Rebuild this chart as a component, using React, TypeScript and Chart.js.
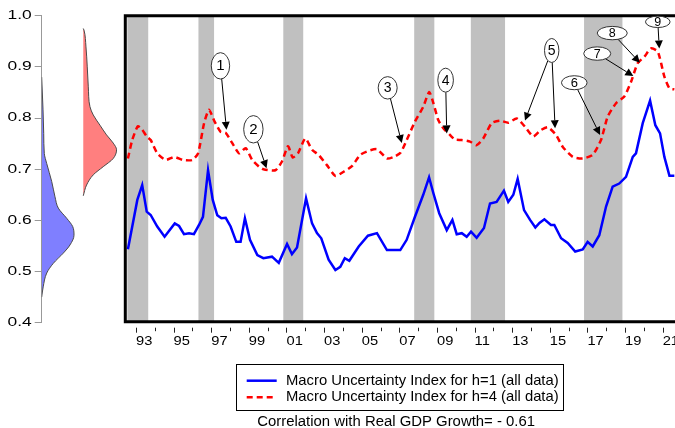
import React, { useEffect, useRef } from "react";
import { Chart, registerables } from "chart.js";
Chart.register(...registerables);

// ---------------- data ----------------
const blueYears = [
  1992.57, 1993.07, 1993.33, 1993.57, 1993.78, 1994.13, 1994.52, 1995.06, 1995.29, 1995.55,
  1995.82, 1996.08, 1996.35, 1996.56, 1996.83, 1997.08, 1997.32, 1997.54, 1997.77, 1998.03,
  1998.33, 1998.56, 1998.79, 1999.06, 1999.45, 1999.77, 2000.23, 2000.59, 2001.03, 2001.29,
  2001.56, 2002.04, 2002.36, 2002.62, 2002.85, 2003.24, 2003.6, 2003.86, 2004.1, 2004.34,
  2004.84, 2005.33, 2005.81, 2006.34, 2006.79, 2007.05, 2007.39, 2007.83, 2008.27, 2008.58,
  2008.81, 2009.12, 2009.52, 2009.82, 2010.05, 2010.32, 2010.58, 2010.81, 2011.11, 2011.5,
  2011.82, 2012.17, 2012.56, 2012.79, 2013.06, 2013.29, 2013.63, 2013.95, 2014.23, 2014.45,
  2014.71, 2015.06, 2015.24, 2015.6, 2015.95, 2016.35, 2016.75, 2017.01, 2017.28, 2017.63,
  2017.99, 2018.34, 2018.69, 2019.05, 2019.41, 2019.58, 2019.94, 2020.33, 2020.61, 2020.86,
  2021.09, 2021.36, 2021.62,
];
const blueValues = [
  0.5435, 0.640, 0.669, 0.617, 0.6105, 0.588, 0.568, 0.594, 0.589, 0.573,
  0.575, 0.573, 0.591, 0.607, 0.698, 0.640, 0.610, 0.604, 0.605, 0.588,
  0.558, 0.558, 0.604, 0.562, 0.532, 0.526, 0.529, 0.517, 0.554, 0.534,
  0.547, 0.643, 0.594, 0.575, 0.565, 0.523, 0.503, 0.509, 0.526, 0.521,
  0.549, 0.570, 0.575, 0.542, 0.542, 0.542, 0.562, 0.607, 0.650, 0.684,
  0.653, 0.614, 0.581, 0.601, 0.573, 0.575, 0.568, 0.578, 0.566, 0.585,
  0.633, 0.636, 0.658, 0.636, 0.650, 0.681, 0.620, 0.601, 0.586, 0.595,
  0.602, 0.591, 0.591, 0.565, 0.556, 0.539, 0.543, 0.558, 0.549, 0.571,
  0.627, 0.666, 0.672, 0.685, 0.724, 0.731, 0.790, 0.834, 0.786, 0.770,
  0.724, 0.687, 0.687,
];
const redYears = [
  1992.57, 1992.8, 1993.1, 1993.33, 1993.57, 1993.78, 1994.13, 1994.58, 1995.02, 1995.51,
  1995.99, 1996.3, 1996.62, 1996.88, 1997.18, 1997.5, 1997.77, 1998.12, 1998.48, 1998.83,
  1999.18, 1999.54, 1999.77, 2000.41, 2000.76, 2001.08, 2001.33, 2001.61, 2002.0, 2002.36,
  2002.71, 2003.15, 2003.6, 2004.04, 2004.48, 2004.92, 2005.37, 2005.81, 2006.34, 2006.7,
  2007.06, 2007.39, 2007.83, 2008.27, 2008.59, 2008.81, 2009.07, 2009.34, 2009.69, 2009.96,
  2010.32, 2010.76, 2011.11, 2011.46, 2011.91, 2012.35, 2012.79, 2013.24, 2013.68, 2014.12,
  2014.5, 2014.89, 2015.33, 2015.68, 2016.22, 2016.75, 2017.28, 2017.72, 2018.08, 2018.52,
  2018.96, 2019.32, 2019.67, 2020.03, 2020.38, 2020.74, 2021.09, 2021.36, 2021.62,
];
const redValues = [
  0.721, 0.757, 0.784, 0.777, 0.764, 0.757, 0.731, 0.718, 0.724, 0.718,
  0.718, 0.731, 0.790, 0.816, 0.793, 0.773, 0.771, 0.751, 0.731, 0.741,
  0.718, 0.705, 0.700, 0.698, 0.715, 0.745, 0.723, 0.731, 0.760, 0.738,
  0.728, 0.708, 0.687, 0.695, 0.706, 0.728, 0.736, 0.739, 0.721, 0.724,
  0.732, 0.757, 0.793, 0.822, 0.851, 0.829, 0.796, 0.780, 0.767, 0.758,
  0.757, 0.754, 0.747, 0.760, 0.790, 0.795, 0.791, 0.799, 0.783, 0.764,
  0.776, 0.782, 0.767, 0.744, 0.724, 0.721, 0.728, 0.757, 0.803, 0.829,
  0.842, 0.871, 0.907, 0.920, 0.936, 0.930, 0.881, 0.858, 0.856,
];

const recessionStarts = [1992.54, 1996.32, 2000.83, 2007.79, 2010.8, 2016.82];
const recessionEnds = [1993.65, 1997.15, 2001.89, 2008.86, 2012.62, 2018.86];

const tickYears = [
  1993, 1994, 1995, 1996, 1997, 1998, 1999, 2000, 2001, 2002, 2003, 2004, 2005, 2006, 2007,
  2008, 2009, 2010, 2011, 2012, 2013, 2014, 2015, 2016, 2017, 2018, 2019, 2020, 2021, 2022,
];
const labelYears = [1993, 1995, 1997, 1999, 2001, 2003, 2005, 2007, 2009, 2011, 2013, 2015, 2017, 2019, 2021];
const labelTexts = ["93", "95", "97", "99", "01", "03", "05", "07", "09", "11", "13", "15", "17", "19", "21"];

const valueTicks = [0.4, 0.5, 0.6, 0.7, 0.8, 0.9, 1.0];
const valueTickLabels = ["0.4", "0.5", "0.6", "0.7", "0.8", "0.9", "1.0"];

// marginal densities (value level -> density)
const blueDensityLevels = [0.45, 0.47, 0.497, 0.516, 0.536, 0.552, 0.571, 0.588, 0.604, 0.624, 0.646, 0.676, 0.711, 0.731, 0.77, 0.816, 0.88];
const blueDensity = [0, 0.36, 1.22, 2.82, 5.25, 6.88, 7.85, 7.53, 6.08, 4.03, 3.23, 2.43, 1.22, 0.63, 0.49, 0.32, 0];
const redDensityLevels = [0.648, 0.669, 0.689, 0.705, 0.721, 0.738, 0.751, 0.767, 0.786, 0.806, 0.822, 0.861, 0.9, 0.939, 0.972, 0.975];
const redDensity = [0, 0.8, 2.43, 4.86, 7.29, 8.09, 7.29, 5.66, 4.06, 2.43, 1.63, 1.22, 0.97, 0.66, 0.17, 0];

const legendLabels = [
  "Macro Uncertainty Index for h=1 (all data)",
  "Macro Uncertainty Index for h=4 (all data)",
];
const footnote = "Correlation with Real GDP Growth= - 0.61";

// numbered call-outs: label, centre (year, value), targets (year, value)
const calloutLabels = ["1", "2", "3", "4", "5", "6", "7", "8", "9"];
const calloutCentres = [
  [1997.49, 0.902], [1999.24, 0.778], [2006.38, 0.859], [2009.46, 0.874], [2015.1, 0.932],
  [2016.3, 0.869], [2017.52, 0.926], [2018.32, 0.966], [2020.74, 0.988],
];
const calloutTargets = [
  [[1997.81, 0.777]], [[1999.94, 0.702]], [[2007.13, 0.751]], [[2009.52, 0.77]],
  [[2013.68, 0.795], [2015.28, 0.78]], [[2017.67, 0.767]], [[2019.44, 0.882]],
  [[2019.79, 0.908]], [[2020.82, 0.936]],
];

// ---------------- styling / layout ----------------
const FONT = '"Liberation Sans", Arial, Helvetica, sans-serif';
const X_MIN = 1992.431;
const X_MAX = 2022.984;
const calloutShapes = [
  { rx: 9.2, ry: 13.2, size: 15 }, { rx: 9.7, ry: 13.7, size: 15 }, { rx: 9.5, ry: 11.2, size: 14 },
  { rx: 7.8, ry: 12, size: 14 }, { rx: 7.2, ry: 12, size: 14 }, { rx: 12.8, ry: 7, size: 13 },
  { rx: 13.5, ry: 6.7, size: 12.5 }, { rx: 15, ry: 6.7, size: 12.5 }, { rx: 12.3, ry: 5.7, size: 12.5 },
];

const bandsPlugin = {
  id: "bands",
  beforeDatasetsDraw(chart: any) {
    const { ctx, chartArea } = chart;
    const xs = chart.scales.x;
    ctx.save();
    ctx.fillStyle = "#C0C0C0";
    recessionStarts.forEach((s, i) => {
      const x0 = xs.getPixelForValue(s);
      const x1 = xs.getPixelForValue(recessionEnds[i]);
      ctx.fillRect(x0, chartArea.top, x1 - x0, chartArea.bottom - chartArea.top);
    });
    ctx.restore();
  },
};

function drawArrow(ctx: CanvasRenderingContext2D, sx: number, sy: number, tx: number, ty: number) {
  const dx = tx - sx, dy = ty - sy;
  const len = Math.hypot(dx, dy);
  const ux = dx / len, uy = dy / len;
  const hl = 8, hw = 4;
  const bx = tx - ux * hl, by = ty - uy * hl;
  ctx.beginPath();
  ctx.moveTo(sx, sy);
  ctx.lineTo(bx, by);
  ctx.strokeStyle = "#000";
  ctx.lineWidth = 1;
  ctx.stroke();
  ctx.beginPath();
  ctx.moveTo(tx, ty);
  ctx.lineTo(bx - uy * hw, by + ux * hw);
  ctx.lineTo(bx + uy * hw, by - ux * hw);
  ctx.closePath();
  ctx.fillStyle = "#000";
  ctx.fill();
}

const FRAME_BOTTOM = 321.7;

const overlayPlugin = {
  id: "overlay",
  afterDatasetsDraw(chart: any) {
    const { ctx, chartArea } = chart;
    const xs = chart.scales.x, ys = chart.scales.y;
    ctx.save();
    // frame
    ctx.strokeStyle = "#000";
    ctx.lineWidth = 3;
    ctx.beginPath();
    ctx.moveTo(chart.width + 5, chartArea.top);
    ctx.lineTo(chartArea.left, chartArea.top);
    ctx.lineTo(chartArea.left, FRAME_BOTTOM);
    ctx.lineTo(chart.width + 5, FRAME_BOTTOM);
    ctx.stroke();
    // callouts
    calloutLabels.forEach((lab, i) => {
      const cx = xs.getPixelForValue(calloutCentres[i][0]);
      const cy = ys.getPixelForValue(calloutCentres[i][1]);
      const { rx, ry, size } = calloutShapes[i];
      calloutTargets[i].forEach(([tyear, tval]) => {
        const tx = xs.getPixelForValue(tyear);
        const ty = ys.getPixelForValue(tval);
        const dx = tx - cx, dy = ty - cy;
        const l = Math.hypot(dx, dy);
        const ux = dx / l, uy = dy / l;
        const t = 1 / Math.sqrt((ux / rx) ** 2 + (uy / ry) ** 2);
        drawArrow(ctx, cx + ux * t, cy + uy * t, tx, ty);
      });
      ctx.beginPath();
      ctx.ellipse(cx, cy, rx, ry, 0, 0, Math.PI * 2);
      ctx.fillStyle = "#fff";
      ctx.fill();
      ctx.lineWidth = 1;
      ctx.strokeStyle = "#333";
      ctx.stroke();
      ctx.fillStyle = "#000";
      ctx.font = `${size}px ${FONT}`;
      ctx.textAlign = "center";
      ctx.textBaseline = "middle";
      ctx.fillText(lab, cx, cy + 0.5);
    });
    ctx.restore();
  },
  afterDraw(chart: any) {
    const { ctx } = chart;
    const xs = chart.scales.x;
    ctx.save();
    // x axis: detached tick marks and labels, placed via the x scale
    const tickTop = 327.7;
    ctx.strokeStyle = "#222";
    ctx.lineWidth = 1;
    tickYears.forEach((yr) => {
      const x = Math.round(xs.getPixelForValue(yr)) + 0.5;
      const major = labelYears.indexOf(yr) >= 0;
      ctx.beginPath();
      ctx.moveTo(x, tickTop);
      ctx.lineTo(x, tickTop + (major ? 5 : 3.5));
      ctx.stroke();
    });
    ctx.fillStyle = "#000";
    ctx.font = `13px ${FONT}`;
    ctx.textAlign = "left";
    ctx.textBaseline = "middle";
    labelYears.forEach((yr, i) => {
      const x = xs.getPixelForValue(yr);
      ctx.save();
      ctx.translate(x, 341.5);
      ctx.scale(1.13, 1);
      ctx.fillText(labelTexts[i], 0, 0);
      ctx.restore();
    });
    // legend box
    ctx.strokeStyle = "#000";
    ctx.lineWidth = 1;
    ctx.strokeRect(236.5, 364.5, 327, 46);
    const rows = [380.7, 397.3];
    const ds = chart.data.datasets;
    rows.forEach((y, i) => {
      ctx.beginPath();
      ctx.strokeStyle = ds[i].borderColor;
      ctx.lineWidth = 2.5;
      ctx.setLineDash(ds[i].borderDash || []);
      ctx.moveTo(246.7, y);
      ctx.lineTo(276.7, y);
      ctx.stroke();
      ctx.setLineDash([]);
      ctx.fillStyle = "#000";
      ctx.font = `14.8px ${FONT}`;
      ctx.textAlign = "left";
      ctx.textBaseline = "middle";
      ctx.fillText(legendLabels[i], 286, y);
    });
    ctx.font = `14.9px ${FONT}`;
    ctx.fillText(footnote, 257.3, 421.7);
    ctx.restore();
  },
};

const leftLabelsPlugin = {
  id: "leftLabels",
  afterDraw(chart: any) {
    const { ctx } = chart;
    const ys = chart.scales.y;
    ctx.save();
    ctx.fillStyle = "#000";
    ctx.font = `12px ${FONT}`;
    ctx.textAlign = "right";
    ctx.textBaseline = "middle";
    valueTicks.forEach((v, i) => {
      const y = ys.getPixelForValue(v);
      ctx.save();
      ctx.translate(31.7, y);
      ctx.scale(1.45, 1);
      ctx.fillText(valueTickLabels[i], 0, 0);
      ctx.restore();
    });
    ctx.restore();
  },
};

export default function App() {
  const mainRef = useRef<HTMLCanvasElement>(null);
  const leftRef = useRef<HTMLCanvasElement>(null);

  useEffect(() => {
    document.body.style.margin = "0";
    const main = new Chart(mainRef.current as HTMLCanvasElement, {
      type: "line",
      data: {
        datasets: [
          {
            label: legendLabels[0],
            data: blueYears.map((x, i) => ({ x, y: blueValues[i] })),
            borderColor: "#0000FF",
            borderWidth: 2.5,
            pointRadius: 0,
            tension: 0,
            fill: false,
          },
          {
            label: legendLabels[1],
            data: redYears.map((x, i) => ({ x, y: redValues[i] })),
            borderColor: "#FF0000",
            borderDash: [6, 4],
            borderWidth: 2.5,
            pointRadius: 0,
            tension: 0.2,
            fill: false,
          },
        ],
      },
      options: {
        animation: false,
        responsive: false,
        events: [],
        layout: { padding: { left: 125.3, top: 15.7, right: 0, bottom: 105.3 } },
        plugins: { legend: { display: false }, tooltip: { enabled: false } },
        scales: {
          x: { type: "linear", min: X_MIN, max: X_MAX, display: false },
          y: { type: "linear", min: 0.4, max: 1.0, display: false },
        },
      } as any,
      plugins: [bandsPlugin, overlayPlugin],
    });

    const left = new Chart(leftRef.current as HTMLCanvasElement, {
      type: "line",
      data: {
        datasets: [
          {
            data: blueDensityLevels.map((y, i) => ({ x: blueDensity[i], y })),
            xAxisID: "x",
            yAxisID: "y",
            borderColor: "#4a4a4a",
            borderWidth: 1,
            backgroundColor: "rgba(0,0,255,0.5)",
            fill: "origin",
            pointRadius: 0,
            cubicInterpolationMode: "monotone",
          },
          {
            data: redDensityLevels.map((y, i) => ({ x: redDensity[i], y })),
            xAxisID: "x2",
            yAxisID: "y",
            borderColor: "#4a4a4a",
            borderWidth: 1,
            backgroundColor: "rgba(255,0,0,0.5)",
            fill: { value: 0 },
            pointRadius: 0,
            cubicInterpolationMode: "monotone",
          },
        ],
      },
      options: {
        indexAxis: "y",
        animation: false,
        responsive: false,
        events: [],
        layout: { padding: { left: 34.7, top: 15.7, right: 0, bottom: 105.3 } },
        plugins: { legend: { display: false }, tooltip: { enabled: false } },
        scales: {
          y: {
            type: "linear",
            position: "left",
            min: 0.4,
            max: 1.0,
            afterBuildTicks: (s: any) => {
              s.ticks = valueTicks.map((v) => ({ value: v }));
            },
            ticks: { display: false },
            grid: { drawOnChartArea: false, drawTicks: true, tickLength: 7, color: "#999" },
            border: { display: true, color: "#999", width: 1 },
          },
          x: { type: "linear", min: 0, max: 20, display: false },
          x2: { type: "linear", min: -10.1, max: 9.9, display: false },
        },
      } as any,
      plugins: [leftLabelsPlugin],
    });

    return () => {
      main.destroy();
      left.destroy();
    };
  }, []);

  return (
    <div style={{ position: "relative", width: 675, height: 428, overflow: "hidden", background: "#fff" }}>
      <canvas ref={mainRef} width={700} height={428} style={{ position: "absolute", left: 0, top: 0 }} />
      <canvas ref={leftRef} width={124} height={428} style={{ position: "absolute", left: 0, top: 0 }} />
    </div>
  );
}
